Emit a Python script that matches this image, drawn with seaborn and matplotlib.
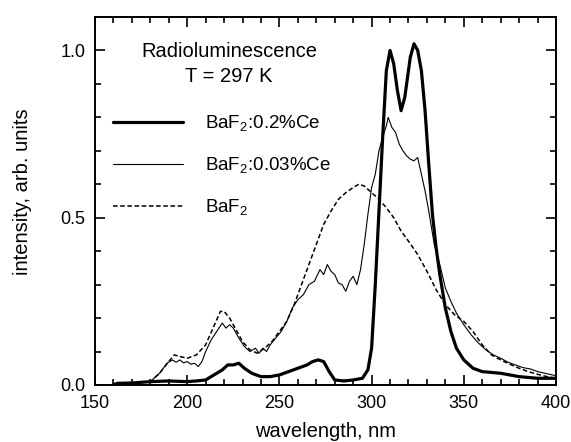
"""Radioluminescence spectra of BaF2 and BaF2:Ce"""

import numpy as np
import pandas as pd
import matplotlib
matplotlib.use('Agg')
import matplotlib.pyplot as plt
from matplotlib.ticker import MultipleLocator
import seaborn as sns

# --- data (wavelength nm, intensity arb. units) ---
WL_CE02 = [162, 170, 180, 190, 200, 205, 210, 213, 216, 219, 222, 225, 228, 231,
           235, 240, 245, 250, 255, 260, 265, 268, 271, 274, 277, 280, 285, 290,
           295, 298, 300, 302, 304, 306, 308, 310, 312, 314, 316, 318, 321, 323,
           325, 327, 329, 331, 333, 335, 337, 340, 343, 346, 350, 355, 360, 370,
           380, 390, 400]
I_CE02 = [0.005, 0.006, 0.010, 0.012, 0.010, 0.012, 0.015, 0.025, 0.035, 0.045,
          0.060, 0.060, 0.065, 0.050, 0.035, 0.025, 0.025, 0.030, 0.040, 0.050,
          0.060, 0.070, 0.075, 0.070, 0.040, 0.015, 0.012, 0.015, 0.020, 0.045,
          0.110, 0.300, 0.520, 0.740, 0.940, 1.000, 0.960, 0.880, 0.820, 0.860,
          0.980, 1.020, 1.000, 0.940, 0.820, 0.660, 0.510, 0.410, 0.330, 0.230,
          0.160, 0.110, 0.075, 0.050, 0.040, 0.035, 0.025, 0.020, 0.020]

WL_CE003 = [180, 185, 189, 192, 194, 196, 198, 200, 202, 204, 206, 208, 210, 213,
            216, 219, 221, 223, 225, 228, 231, 234, 237, 239, 241, 243, 245, 248,
            251, 254, 257, 260, 263, 266, 269, 272, 274, 276, 278, 280, 282, 284,
            286, 288, 290, 292, 294, 296, 298, 300, 302, 304, 306, 308, 309, 311,
            313, 315, 317, 319, 321, 323, 325, 327, 329, 331, 334, 337, 340, 343,
            346, 350, 354, 358, 362, 366, 370, 374, 378, 382, 386, 390, 394, 398,
            400]
I_CE003 = [0.010, 0.035, 0.065, 0.075, 0.068, 0.075, 0.066, 0.070, 0.062, 0.065,
           0.055, 0.070, 0.100, 0.135, 0.160, 0.185, 0.170, 0.180, 0.170, 0.140,
           0.115, 0.100, 0.110, 0.095, 0.110, 0.100, 0.120, 0.140, 0.160, 0.190,
           0.230, 0.255, 0.270, 0.300, 0.310, 0.345, 0.330, 0.360, 0.340, 0.330,
           0.305, 0.300, 0.280, 0.310, 0.325, 0.300, 0.345, 0.420, 0.510, 0.590,
           0.630, 0.700, 0.740, 0.775, 0.800, 0.770, 0.755, 0.720, 0.700, 0.685,
           0.675, 0.670, 0.680, 0.630, 0.580, 0.520, 0.420, 0.360, 0.290, 0.250,
           0.215, 0.180, 0.150, 0.125, 0.105, 0.090, 0.080, 0.068, 0.060, 0.052,
           0.048, 0.040, 0.035, 0.030, 0.028]

WL_PURE = [160, 170, 180, 185, 190, 193, 196, 200, 205, 210, 214, 218, 220, 223,
           226, 230, 234, 238, 242, 246, 250, 254, 258, 262, 266, 270, 274, 278,
           282, 286, 290, 293, 296, 300, 304, 308, 312, 316, 320, 325, 330, 335,
           340, 345, 350, 355, 360, 365, 370, 375, 380, 385, 390, 395, 400]
I_PURE = [0.005, 0.005, 0.010, 0.035, 0.070, 0.090, 0.085, 0.080, 0.090, 0.120,
          0.170, 0.220, 0.220, 0.200, 0.170, 0.130, 0.105, 0.095, 0.110, 0.130,
          0.160, 0.190, 0.240, 0.300, 0.360, 0.420, 0.480, 0.520, 0.555, 0.575,
          0.590, 0.600, 0.595, 0.575, 0.555, 0.530, 0.500, 0.460, 0.430, 0.390,
          0.340, 0.285, 0.240, 0.210, 0.190, 0.160, 0.120, 0.090, 0.075, 0.062,
          0.050, 0.040, 0.032, 0.025, 0.020]

LABELS = ['BaF$_\\mathregular{2}$:0.2%Ce',
          'BaF$_\\mathregular{2}$:0.03%Ce',
          'BaF$_\\mathregular{2}$']
TITLE = 'Radioluminescence\nT = 297 K'

sns.set_style('ticks')
plt.rcParams['font.family'] = ['Liberation Sans', 'DejaVu Sans']
plt.rcParams['mathtext.fontset'] = 'custom'
plt.rcParams['mathtext.rm'] = 'Liberation Sans'
for key in ['text.color', 'axes.labelcolor', 'xtick.color', 'ytick.color',
            'axes.edgecolor']:
    plt.rcParams[key] = 'black'

fig, ax = plt.subplots(figsize=(5.71, 4.42), dpi=100)
fig.subplots_adjust(left=0.1664, right=0.9737, bottom=0.129, top=0.9615)

sns.lineplot(x=WL_CE02, y=I_CE02, ax=ax, color='black', linewidth=2.3,
             label=LABELS[0], sort=False)
sns.lineplot(x=WL_CE003, y=I_CE003, ax=ax, color='black', linewidth=0.8,
             label=LABELS[1], sort=False)
sns.lineplot(x=WL_PURE, y=I_PURE, ax=ax, color='black', linewidth=1.1,
             label=LABELS[2], sort=False)
ax.lines[-1].set_dashes([3, 1.7])

ax.set_xlim(150, 400)
ax.set_ylim(0, 1.1)
ax.xaxis.set_major_locator(MultipleLocator(50))
ax.xaxis.set_minor_locator(MultipleLocator(10))
ax.yaxis.set_major_locator(MultipleLocator(0.5))
ax.yaxis.set_minor_locator(MultipleLocator(0.1))
ax.tick_params(which='both', direction='in', top=True, right=True,
               width=1.2, labelsize=13, pad=7)
ax.tick_params(which='major', length=7.5)
ax.tick_params(which='minor', length=4)
for sp in ax.spines.values():
    sp.set_linewidth(1.4)

ax.set_xlabel('wavelength, nm', fontsize=14.5)
ax.set_ylabel('intensity, arb. units', fontsize=14.5)
ax.xaxis.set_label_coords(0.5, -0.1)
ax.yaxis.set_label_coords(-0.137, 0.524)

ax.text(0.291, 0.872, TITLE, transform=ax.transAxes, ha='center', va='center',
        multialignment='center', fontsize=14.5, linespacing=1.39)

leg = ax.legend(loc='upper left', bbox_to_anchor=(0.039, 0.737), frameon=False,
                fontsize=13.5, borderpad=0, borderaxespad=0, handlelength=3.73,
                handletextpad=1.17, labelspacing=1.15)

plt.savefig('out.png', dpi=100)
plt.close()
